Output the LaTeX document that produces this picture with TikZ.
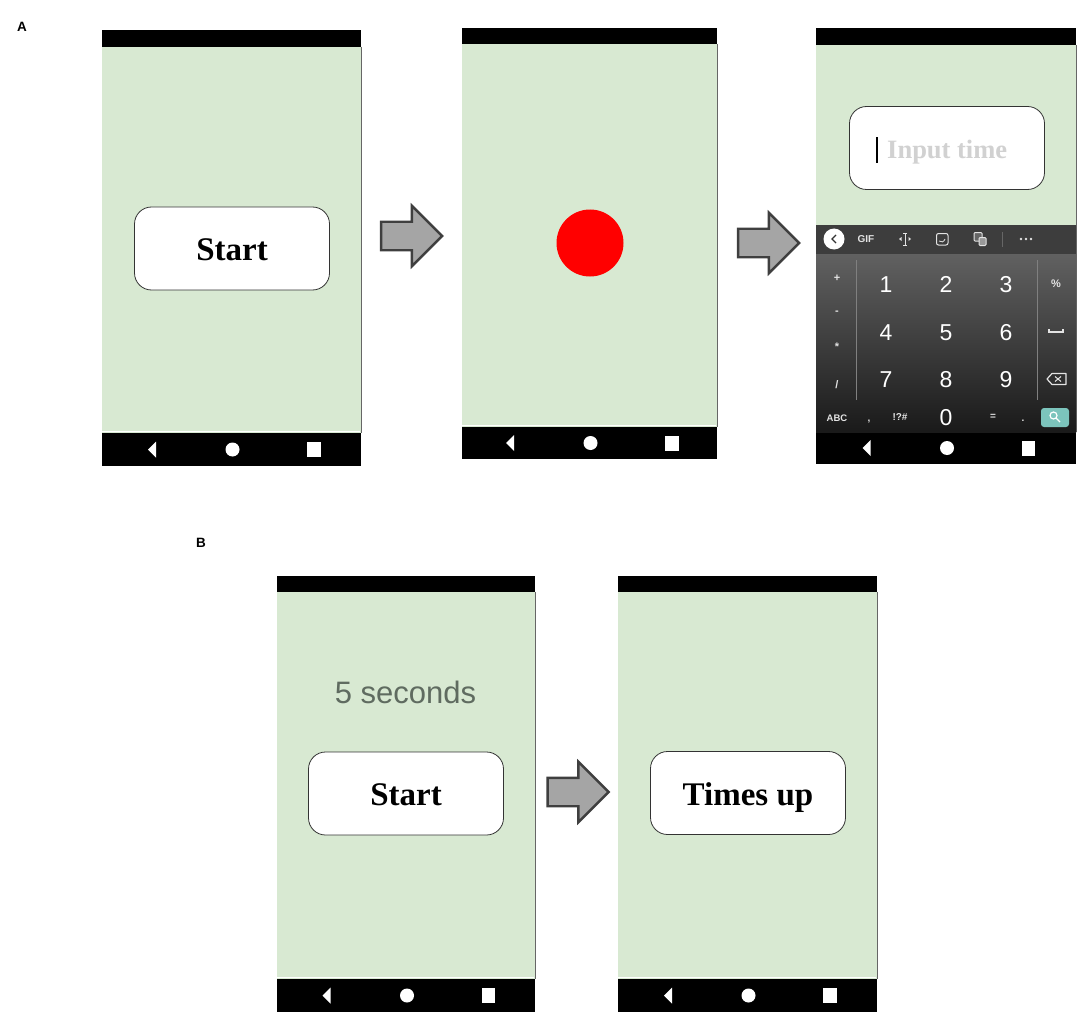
\documentclass[tikz,border=0pt]{standalone}
\usepackage{fontspec}
\setmainfont{Liberation Serif}
\newfontfamily\keyfont{Liberation Sans}
\usetikzlibrary{shapes.arrows}
\definecolor{screengreen}{HTML}{D8E9D2}
\definecolor{arrowgrey}{HTML}{A5A5A5}
\definecolor{arrowedge}{HTML}{3F3F3F}
\definecolor{keytext}{HTML}{E4E4E4}
\definecolor{searchkey}{HTML}{7CC4BC}
\definecolor{hinttext}{HTML}{5F6B60}
\newcommand{\fsz}[1]{\fontsize{#1}{#1}\selectfont}
\tikzstyle{button} = [rectangle, rounded corners=17pt, minimum width=195pt, minimum height=83pt, text centered, draw=black!80, line width=0.8pt, fill=white, font=\bfseries\fsz{33}, text height=24pt, text depth=0pt]
\tikzstyle{arrow} = [single arrow, draw=arrowedge, fill=arrowgrey, line width=2.4pt, minimum height=61pt, minimum width=60pt, single arrow head extend=16pt, single arrow head indent=0pt, inner xsep=0pt, inner ysep=13pt]
\tikzstyle{panel} = [font=\keyfont\bfseries\fsz{13.5}]
\tikzstyle{digit} = [text=white, font=\keyfont\fsz{23}, text height=16.5pt, text depth=0pt]
\tikzstyle{smallkey} = [text=keytext, font=\keyfont\fsz{10}]
\tikzstyle{icon} = [draw=keytext, line width=1pt]
% one phone: left, top, right, bottom, end of top bar, start of nav bar
\newcommand{\phone}[6]{
\fill[screengreen] (#1,#5) rectangle (#3,#6);
\draw[black!60, line width=0.8pt] (#3,#5) -- (#3,#6);
\fill[black] (#1,#2) rectangle (#3,#5);
\fill[black] (#1,#6) rectangle (#3,#4);
\draw[white, line width=1pt] (#1,#6-1.5) -- (#3-1,#6-1.5);
\pgfmathsetmacro{\midx}{(#1+#3)/2}
\pgfmathsetmacro{\midy}{(#6+#4)/2}
\fill[white] (\midx-75.5,\midy-8) -- (\midx-75.5,\midy+8) -- (\midx-83.5,\midy) -- cycle;
\fill[white] (\midx+1,\midy) circle (7pt);
\fill[white] (\midx+75.5,\midy-7.5) rectangle (\midx+89,\midy+7.5);
}

\begin{document}
\begin{tikzpicture}[x=1pt, y=-1pt]
\useasboundingbox (0,0) rectangle (1084,1019);

\node(labelA)[panel] at (22,27){A};
\node(labelB)[panel] at (201,543){B};

% panel A
\phone{102}{30}{361}{466}{47}{433}
\phone{462}{28}{717}{459}{44}{427}
\phone{816}{28}{1076}{464}{45}{432}

\node(start1)[button] at (232,248.5){Start};
\fill[red] (590,243) circle (33.5pt);
\node(input)[button] at (947,148){};
\fill[black] (875.8,137) rectangle (878.2,163);
\node(inputtext)[font=\bfseries\fsz{26.5}, text=black!18, anchor=west, inner sep=0pt] at (887,152.5){Input time};

% keyboard
\fill[black!76] (816,225) rectangle (1076,254);
\shade[top color=black!62, bottom color=black!90] (816,254) rectangle (1076,432);
\draw[black!50, line width=0.8pt] (856,260) -- (856,400);
\draw[black!50, line width=0.8pt] (1037,260) -- (1037,400);
\draw[black!60, line width=0.8pt] (1002,232) -- (1002,247);

\fill[white] (834,239) circle (10.5pt);
\draw[black!80, line width=1.3pt] (836,235) -- (832,239) -- (836,243);
\node(gif)[smallkey, font=\keyfont\bfseries\fsz{10}] at (866,239){GIF};
\draw[icon] (905,233) -- (905,245) (903,233) -- (907,233) (903,245) -- (907,245);
\fill[keytext] (899,239) -- (901.5,237) -- (901.5,241) -- cycle (911,239) -- (908.5,237) -- (908.5,241) -- cycle;
\draw[icon, rounded corners=2pt] (936.5,233.5) rectangle (948,245);
\draw[icon, line width=0.8pt] (939,241) .. controls (941,243) and (944,242) .. (945,239);
\draw[icon, rounded corners=1pt, fill=black!60] (974,232.5) rectangle (982,241);
\draw[icon, rounded corners=1pt, fill=black!40] (979,237.5) rectangle (986,245.5);
\foreach \x in {1021,1026,1031}
  \fill[keytext] (\x,239) circle (1.3pt);

\foreach \x/\y/\d in {886/284/1, 946/284/2, 1006/284/3, 886/332/4, 946/332/5, 1006/332/6, 886/379/7, 946/379/8, 1006/379/9, 946/417/0}
  \node(key\d)[digit] at (\x,\y){\d};

\node(plus)[smallkey, font=\keyfont\bfseries\fsz{11}] at (837,278){+};
\node(minus)[smallkey, font=\keyfont\bfseries\fsz{11}] at (837,313){-};
\node(times)[smallkey, font=\keyfont\bfseries\fsz{11}] at (837,347){*};
\node(slash)[smallkey, font=\keyfont\bfseries\fsz{11}] at (837,385){/};
\node(abc)[smallkey, font=\keyfont\bfseries\fsz{9.5}] at (837,418){ABC};
\node(comma)[smallkey, font=\keyfont\bfseries\fsz{10}] at (869,422){,};
\node(bang)[smallkey, font=\keyfont\bfseries\fsz{10}] at (900,417){!?\#};
\node(equal)[smallkey, font=\keyfont\bfseries\fsz{10}] at (993,417){=};
\node(dot)[smallkey, font=\keyfont\bfseries\fsz{10}] at (1023,421){.};
\node(percent)[smallkey, font=\keyfont\bfseries\fsz{11}] at (1056,284){\%};

\draw[icon, line width=1.2pt] (1049,329) -- (1049,332) -- (1063,332) -- (1063,329);
\draw[icon, line width=1.2pt, line join=round] (1047,379) -- (1052,373.5) -- (1066,373.5) -- (1066,384.5) -- (1052,384.5) -- cycle;
\draw[icon] (1055,376.5) -- (1061,381.5) (1061,376.5) -- (1055,381.5);
\fill[searchkey, rounded corners=3pt] (1041,408) rectangle (1069,427);
\draw[white, line width=1.2pt] (1053.5,415.5) circle (3.5pt) (1056,418) -- (1060,422);

\node(arrowone)[arrow] at (404.5,236){};
\node(arrowtwo)[arrow] at (761.5,243){};

% panel B
\phone{277}{576}{535}{1012}{592}{979}
\phone{618}{576}{877}{1012}{592}{979}

\node(seconds)[text=hinttext, font=\keyfont\fsz{31}] at (405.5,692){5 seconds};
\node(start2)[button] at (406,793.5){Start};
\node(timesup)[button] at (748,793){Times up};
\node(arrowthree)[arrow] at (571,792){};

\end{tikzpicture}
\end{document}
